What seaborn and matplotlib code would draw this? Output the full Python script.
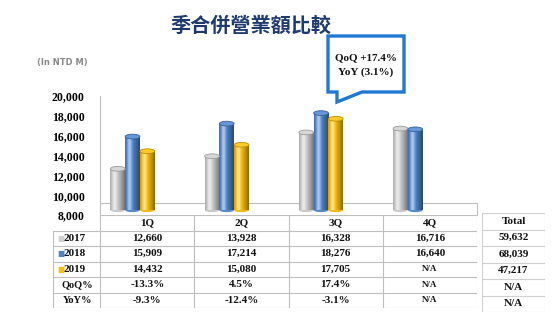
import numpy as np
import pandas as pd
import matplotlib
matplotlib.use("Agg")
import matplotlib.pyplot as plt
import matplotlib.colors as mcolors
import seaborn as sns
from matplotlib.patches import Ellipse, Polygon

# ---------------- data ----------------
quarters = ["1Q", "2Q", "3Q", "4Q"]
years = ["2017", "2018", "2019"]
rev_2017 = [12660, 13928, 16328, 16716]
rev_2018 = [15909, 17214, 18276, 16640]
rev_2019 = [14432, 15080, 17705, np.nan]
qoq_2019 = ["-13.3%", "4.5%", "17.4%", "N/A"]
yoy_2019 = ["-9.3%", "-12.4%", "-3.1%", "N/A"]
total_label = "Total"
totals = ["59,632", "68,039", "47,217", "N/A", "N/A"]
row_labels = ["2017", "2018", "2019", "QoQ%", "YoY%"]
yticks = [8000, 10000, 12000, 14000, 16000, 18000, 20000]
palette = {"2017": "#d0d0d0", "2018": "#4a84d0", "2019": "#ffbf00"}
title = "季合併營業額比較"
unit_label = "(In NTD M)"
callout = ["QoQ +17.4%", "YoY (3.1%)"]

df = pd.DataFrame({
    "quarter": quarters * 3,
    "year": sum([[y] * 4 for y in years], []),
    "revenue": rev_2017 + rev_2018 + rev_2019,
})

# ---------------- figure ----------------
sns.set_theme(style="white")
plt.rcParams["font.family"] = ["Liberation Serif", "DejaVu Sans"]

W, H = 554, 326
fig = plt.figure(figsize=(W / 100, H / 100), dpi=100)
fig.patch.set_facecolor("white")


def px_axes(x0, y0, x1, y1):
    return fig.add_axes([x0 / W, 1 - y1 / H, (x1 - x0) / W, (y1 - y0) / H])


def fx(x):
    return x / W


def fy(y):
    return 1 - y / H


serif = ["Liberation Serif", "DejaVu Sans"]
line_c = "#bfbfbf"

# ---------------- main chart ----------------
ax = px_axes(100, 96, 477, 215)
sns.barplot(data=df, x="quarter", y="revenue", hue="year", order=quarters,
            hue_order=years, palette=palette, width=0.47, legend=False,
            ax=ax, saturation=1)
bars = [p for p in ax.patches]
xlim = (-0.345, 3.655)
ylim = (8000, 20000)
floor = 8500  # visual base of the 3D cylinders

for p in bars:
    h = p.get_height()
    if h is None or np.isnan(h) or h == 0:
        continue
    top = p.get_y() + h
    x, w = p.get_x(), p.get_width()
    p.set_y(floor)
    p.set_height(top - floor)
    base = np.array(mcolors.to_rgb(p.get_facecolor()))
    t = np.linspace(0, 1, 40)
    dark = 0.45 * np.abs(t - 0.35) ** 1.5 / 0.65 ** 1.5
    light = 0.55 * np.exp(-((t - 0.3) / 0.16) ** 2)
    col = base[None, :] * (1 - dark[:, None])
    col = col + (1 - col) * light[:, None]
    img = np.repeat(col[None, :, :], 2, axis=0)
    p.set_edgecolor("none")
    im = ax.imshow(img, extent=(x, x + w, floor, top), aspect="auto",
                   interpolation="bilinear", zorder=p.get_zorder() + 0.1)
    im.set_clip_path(p)
    ax.add_patch(Ellipse((x + w / 2, floor), w, 420, facecolor=col[len(t) // 2],
                         edgecolor="none", zorder=p.get_zorder() + 0.05,
                         clip_on=False))
    capc = base * 0.85 + 0.15
    edgec = np.clip(base * 0.75, 0, 1)
    ax.add_patch(Ellipse((x + w / 2, top), w, 480, facecolor=capc,
                         edgecolor=edgec, lw=0.6, zorder=p.get_zorder() + 0.2,
                         clip_on=False))

ax.set_xlim(*xlim)
ax.set_ylim(*ylim)
ax.set_yticks(yticks)
ax.set_yticklabels([f"{v:,}" for v in yticks], fontsize=8.5,
                   fontweight="bold", family=serif)
ax.tick_params(axis="y", length=0, pad=11, colors="#000000")
ax.set_xticks([])
ax.set_xlabel("")
ax.set_ylabel("")
for s in ["top", "right", "bottom"]:
    ax.spines[s].set_visible(False)
ax.spines["left"].set_color(line_c)
ax.spines["left"].set_linewidth(0.8)
ax.axhline(9210, color=line_c, lw=0.8, zorder=0.5)
ax.plot([xlim[1], xlim[1]], [8000, 9210], color=line_c, lw=0.8,
        clip_on=False, zorder=0.5)
ax.set_facecolor("none")

# ---------------- main table ----------------
tax = px_axes(53, 215, 477, 308)
tax.set_xlim(-1.0, 3.5)
tax.set_ylim(6, 0)
tax.axis("off")
nrows = 6
tax.plot([-0.5, 3.5], [0, 0], color=line_c, lw=0.8)
for r in range(1, nrows + 1):
    tax.plot([-1.0, 3.5], [r, r], color=line_c, lw=0.8)
tax.plot([-1.0, -1.0], [1, 6], color=line_c, lw=0.8)
for c in [-0.5, 0.5, 1.5, 2.5, 3.5]:
    tax.plot([c, c], [0, 6], color=line_c, lw=0.8)

tkw = dict(ha="center", va="center", fontsize=8, fontweight="bold",
           family=serif, color="#111111")
for i, q in enumerate(quarters):
    tax.text(i, 0.5, q, **tkw)
series = [rev_2017, rev_2018, rev_2019]
for r, vals in enumerate(series):
    for i, v in enumerate(vals):
        txt = "N/A" if np.isnan(v) else f"{int(v):,}"
        kw = dict(tkw)
        if txt == "N/A":
            kw["fontsize"] = 6.5
        tax.text(i, r + 1.5, txt, **kw)
for r, vals in enumerate([qoq_2019, yoy_2019]):
    for i, v in enumerate(vals):
        kw = dict(tkw)
        if v == "N/A":
            kw["fontsize"] = 6.5
        tax.text(i, r + 4.5, v, **kw)
for r, lab in enumerate(row_labels):
    yy = r + 1.5
    if lab in palette:
        tax.text(-0.955, yy, "■", ha="left", va="center", fontsize=5.5,
                 color=palette[lab], family=["DejaVu Sans"])
        tax.text(-0.89, yy, lab, ha="left", va="center", fontsize=8,
                 fontweight="bold", family=serif, color="#111111")
    else:
        tax.text(-0.74, yy, lab, ha="center", va="center", fontsize=7.5,
                 fontweight="bold", family=serif, color="#111111")

# ---------------- total table ----------------
tot = px_axes(482, 213, 545, 312)
tot.set_xlim(0, 1)
tot.set_ylim(6, 0)
tot.axis("off")
for r in range(0, 7):
    tot.plot([0, 1], [r, r], color="#d0d0d0", lw=0.8)
for c in [0, 1]:
    tot.plot([c, c], [0, 6], color="#d0d0d0", lw=0.8)
tot.text(0.5, 0.5, total_label, **tkw)
for r, v in enumerate(totals):
    tot.text(0.5, r + 1.5, v, **tkw)

# ---------------- annotations ----------------
fig.text(fx(251), fy(25), title, ha="center", va="center", fontsize=14.5,
         fontweight="bold", color="#1f3a6e",
         family=["Noto Sans CJK TC", "DejaVu Sans"])
fig.text(fx(62), fy(62), unit_label, ha="center", va="center", fontsize=6,
         fontweight="bold", color="#8a8a8a", family=["DejaVu Sans"])

pts = [(328, 36), (404, 36), (404, 92), (362, 92), (337, 102), (337, 92),
       (328, 92)]
poly = Polygon([(fx(a), fy(b)) for a, b in pts], closed=True,
               facecolor="white", edgecolor="#1f78d1", lw=2.4,
               joinstyle="miter", transform=fig.transFigure)
fig.add_artist(poly)
fig.text(fx(366), fy(58), callout[0], ha="center", va="center", fontsize=8,
         fontweight="bold", family=serif, color="#111111")
fig.text(fx(366), fy(72), callout[1], ha="center", va="center", fontsize=8,
         fontweight="bold", family=serif, color="#111111")

fig.savefig("out.png", dpi=100)
